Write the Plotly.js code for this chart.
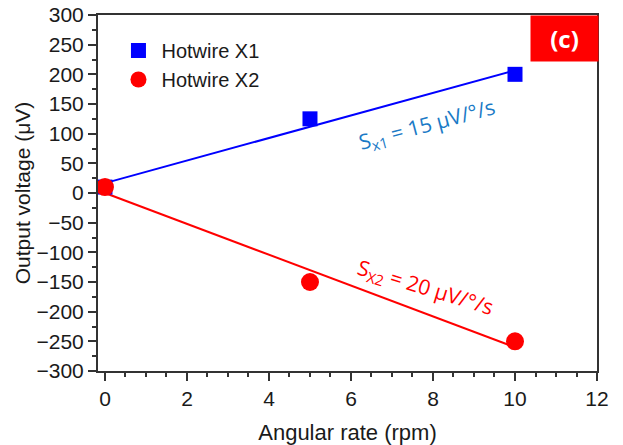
<!DOCTYPE html>
<html>
<head>
<meta charset="utf-8">
<script src="https://cdn.plot.ly/plotly-3.0.1.min.js"></script>
<style>html,body{margin:0;padding:0;background:#fff;}#chart{width:623px;height:445px;}</style>
</head>
<body>
<div id="chart"></div>
<script>
const rateRpm = [0, 5, 10];
const hotwireX1 = [10, 125, 200];
const hotwireX2 = [10, -150, -250];
const seriesNames = ["Hotwire X1", "Hotwire X2"];
const labelX1 = "S<sub>x1</sub> = 15 μV/°/s";
const labelX2 = "S<sub>X2</sub> = 20 μV/°/s";
const panelLabel = "<b>(c)</b>";

function linFit(x, y) {
  const n = x.length;
  const mx = x.reduce((a, b) => a + b, 0) / n;
  const my = y.reduce((a, b) => a + b, 0) / n;
  let sxy = 0, sxx = 0;
  for (let i = 0; i < n; i++) { sxy += (x[i] - mx) * (y[i] - my); sxx += (x[i] - mx) ** 2; }
  const m = sxy / sxx, b = my - m * mx;
  return x.map(v => m * v + b);
}
const fitX1 = linFit(rateRpm, hotwireX1);
const fitX2 = linFit(rateRpm, hotwireX2);

const traces = [
  {x: rateRpm, y: fitX1, mode: 'lines', line: {color: '#0000ff', width: 2}, showlegend: false, hoverinfo: 'skip'},
  {x: rateRpm, y: fitX2, mode: 'lines', line: {color: '#ff0000', width: 2}, showlegend: false, hoverinfo: 'skip'},
  {x: rateRpm, y: hotwireX1, mode: 'markers', name: seriesNames[0], marker: {symbol: 'square', size: 15, color: '#0000ff'}},
  {x: rateRpm, y: hotwireX2, mode: 'markers', name: seriesNames[1], marker: {symbol: 'circle', size: 18, color: '#ff0000'}}
];

const axisCommon = {
  showgrid: false, zeroline: false, showline: true, linecolor: '#333', linewidth: 2,
  mirror: true, ticks: 'outside', ticklen: 8, tickwidth: 2, tickcolor: '#333',
  tickfont: {family: 'Liberation Sans, Arial, sans-serif', size: 21, color: '#1a1a1a'}
};

const layout = {
  width: 623, height: 445,
  margin: {l: 98, r: 26, t: 15, b: 74},
  paper_bgcolor: '#fff', plot_bgcolor: '#fff',
  font: {family: 'Liberation Sans, Arial, sans-serif', color: '#1a1a1a'},
  xaxis: Object.assign({}, axisCommon, {
    range: [-0.17, 12], tick0: 0, dtick: 2,
    minor: {dtick: 0.5, ticks: 'outside', ticklen: 4, tickwidth: 2, tickcolor: '#333'},
    title: {text: 'Angular rate (rpm)', font: {size: 22, family: 'Liberation Sans, Arial, sans-serif', color: '#1a1a1a'}, standoff: 16}
  }),
  yaxis: Object.assign({}, axisCommon, {
    range: [-300, 300], tick0: -300, dtick: 50,
    minor: {dtick: 25, ticks: 'outside', ticklen: 4, tickwidth: 2, tickcolor: '#333'},
    title: {text: 'Output voltage (μV)', font: {size: 21, family: 'Liberation Sans, Arial, sans-serif', color: '#1a1a1a'}, standoff: 0}
  }),
  legend: {x: 0.035, y: 0.955, xanchor: 'left', yanchor: 'top', bgcolor: 'rgba(0,0,0,0)',
    font: {size: 20, family: 'Liberation Sans, Arial, sans-serif', color: '#1a1a1a'}, itemwidth: 36, tracegroupgap: 0},
  annotations: [
    {x: 7.86, y: 115, xref: 'x', yref: 'y', text: labelX1, showarrow: false, textangle: -15,
     font: {family: 'Open Sans, Noto Sans, sans-serif', size: 21, color: '#1a7ac6'}},
    {x: 7.82, y: -160, xref: 'x', yref: 'y', text: labelX2, showarrow: false, textangle: 17,
     font: {family: 'Open Sans, Noto Sans, sans-serif', size: 21, color: '#ff0000'}},
    {x: 1, y: 1, xref: 'paper', yref: 'paper', xanchor: 'right', yanchor: 'top', text: panelLabel, showarrow: false,
     bgcolor: '#ff0000', width: 63, height: 41, borderpad: 2, xshift: 2,
     font: {family: 'Open Sans, Noto Sans, sans-serif', size: 24, color: '#ffffff'}}
  ]
};

Plotly.newPlot('chart', traces, layout, {displayModeBar: false, staticPlot: true});
</script>
</body>
</html>
